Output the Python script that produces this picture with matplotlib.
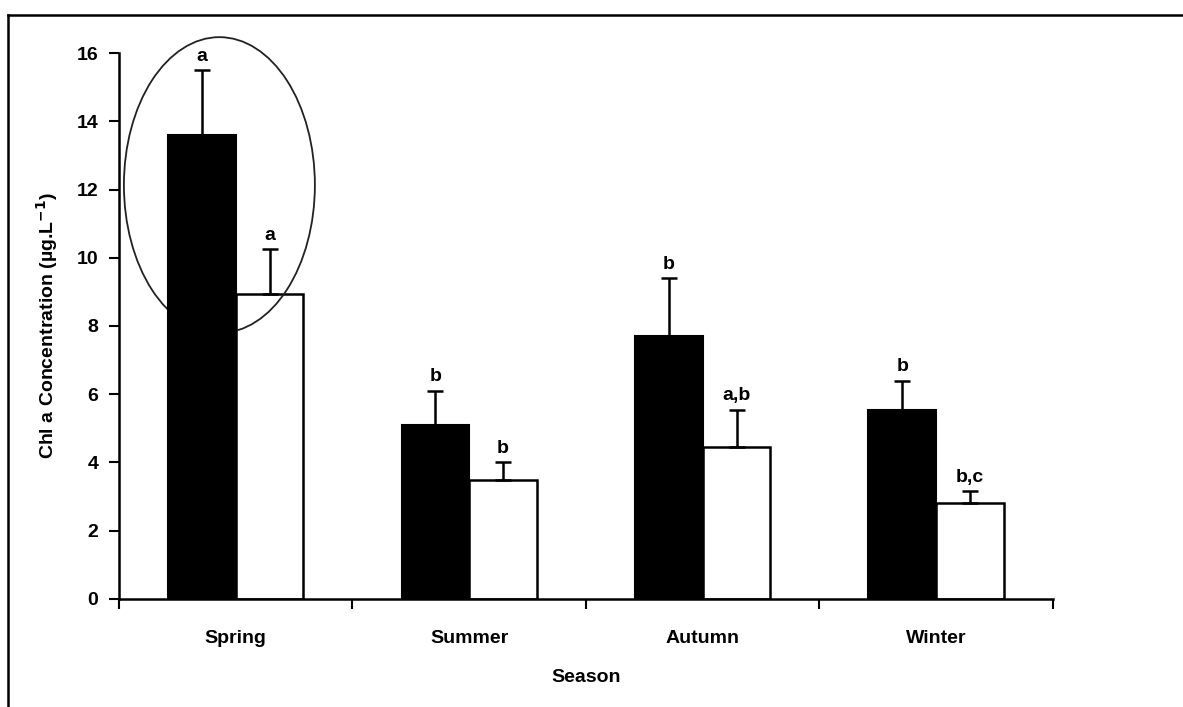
import matplotlib.pyplot as plt
from matplotlib.patches import Ellipse
from matplotlib.lines import Line2D
import numpy as np

plt.rcParams['font.family'] = ['Liberation Sans', 'DejaVu Sans']
plt.rcParams['font.weight'] = 'bold'

seasons = ['Spring', 'Summer', 'Autumn', 'Winter']
black_vals = [13.6, 5.1, 7.7, 5.55]
black_err = [1.9, 1.0, 1.7, 0.85]
white_vals = [8.95, 3.5, 4.45, 2.8]
white_err = [1.3, 0.5, 1.1, 0.35]
black_labels = ['a', 'b', 'b', 'b']
white_labels = ['a', 'b', 'a,b', 'b,c']

fs = 14

fig = plt.figure(figsize=(11.83, 7.07), dpi=100)
ax = fig.add_axes([0.1006, 0.1528, 0.7894, 0.7722])

x = np.arange(len(seasons))
w = 0.29
ekw = dict(elinewidth=1.8, capthick=1.8, ecolor='black')
ax.bar(x - w / 2, black_vals, w, color='black', edgecolor='black', linewidth=1.5,
       yerr=[np.zeros(4), black_err], capsize=6, error_kw=ekw, zorder=4)
ax.bar(x + w / 2, white_vals, w, color='white', edgecolor='black', linewidth=1.8,
       yerr=[np.zeros(4), white_err], capsize=6, error_kw=ekw, zorder=2)

for i in range(len(seasons)):
    ax.annotate(black_labels[i], (x[i] - w / 2, black_vals[i] + black_err[i]),
                xytext=(0, 4), textcoords='offset points', ha='center', va='bottom',
                fontsize=fs, fontweight='bold')
    ax.annotate(white_labels[i], (x[i] + w / 2, white_vals[i] + white_err[i]),
                xytext=(0, 4), textcoords='offset points', ha='center', va='bottom',
                fontsize=fs, fontweight='bold')

# highlight ellipse around spring
ell = Ellipse((-0.07, 12.13), 0.818, 8.67, fill=False, edgecolor='#222222',
              linewidth=1.3, clip_on=False, zorder=3)
ax.add_patch(ell)

ax.set_xlim(-0.5, 3.5)
ax.set_ylim(0, 16)
ax.set_yticks(range(0, 17, 2))
ax.set_xticks(np.arange(-0.5, 3.6, 1.0))
ax.set_xticklabels([])
ax.set_xticks(x, minor=True)
ax.set_xticklabels(seasons, minor=True)
ax.tick_params(axis='x', which='minor', length=0, pad=22, labelsize=fs)
ax.tick_params(axis='x', which='major', length=7, width=1.5, direction='out')
ax.tick_params(axis='y', length=7, width=1.5, direction='out', labelsize=fs, pad=8)
for lab in ax.get_yticklabels() + ax.get_xticklabels(minor=True):
    lab.set_fontweight('bold')

ax.spines['top'].set_visible(False)
ax.spines['right'].set_visible(False)
ax.spines['left'].set_linewidth(1.8)
ax.spines['bottom'].set_linewidth(1.8)

ax.set_ylabel('Chl a Concentration (µg.L$^{\\mathbf{-1}}$)', fontsize=fs,
              fontweight='bold', labelpad=12)
ax.set_xlabel('Season', fontsize=fs, fontweight='bold', labelpad=16)

# outer frame (left and top edges)
fig.add_artist(Line2D([8 / 1183, 8 / 1183], [0, 1 - 15 / 707], color='black',
                      linewidth=1.8, transform=fig.transFigure))
fig.add_artist(Line2D([8 / 1183, 1], [1 - 15 / 707, 1 - 15 / 707], color='black',
                      linewidth=1.8, transform=fig.transFigure))

plt.savefig('out.png', dpi=100)
